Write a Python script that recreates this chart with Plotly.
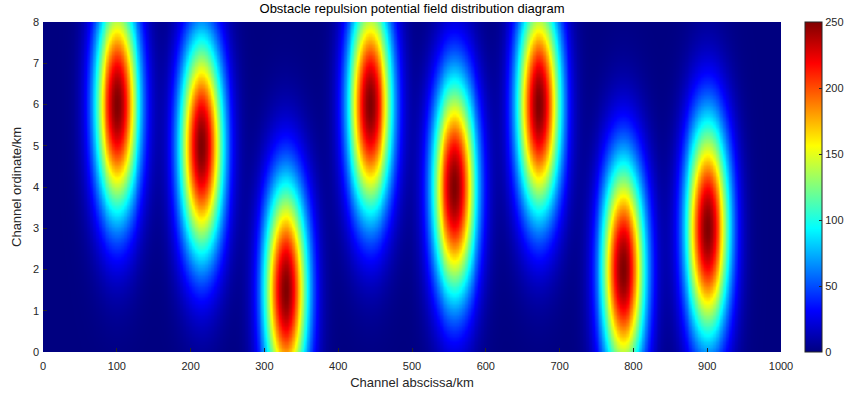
import numpy as np
import plotly.graph_objects as go

# Obstacle positions (km) and their repulsion strength / spread
obstacle_x = [100.0, 214.3, 328.6, 442.9, 557.1, 671.4, 785.7, 900.0]
obstacle_y = [6.0, 5.0, 1.5, 6.0, 4.0, 6.0, 2.0, 3.0]
obstacle_peak = [250, 250, 250, 250, 250, 250, 250, 250]
spread_x = 21.0   # km
spread_y = 1.85   # km

x_ticks = [0, 100, 200, 300, 400, 500, 600, 700, 800, 900, 1000]
y_ticks = [0, 1, 2, 3, 4, 5, 6, 7, 8]
cbar_ticks = [0, 50, 100, 150, 200, 250]

# Evaluation grid for the potential field
gx = np.linspace(0, 1000, 501)
gy = np.linspace(0, 8, 241)
X, Y = np.meshgrid(gx, gy)
Z = np.zeros_like(X)
for ox, oy, pk in zip(obstacle_x, obstacle_y, obstacle_peak):
    Z += pk * np.exp(-((X - ox) ** 2) / (2 * spread_x ** 2) - ((Y - oy) ** 2) / (2 * spread_y ** 2))

jet = [
    [0.0, "rgb(0,0,128)"],
    [0.125, "rgb(0,0,255)"],
    [0.375, "rgb(0,255,255)"],
    [0.625, "rgb(255,255,0)"],
    [0.875, "rgb(255,0,0)"],
    [1.0, "rgb(128,0,0)"],
]

txt = "#262626"
font_family = "Liberation Sans, Arial, sans-serif"

fig = go.Figure(
    go.Heatmap(
        x=gx, y=gy, z=Z,
        colorscale=jet, zmin=0, zmax=250,
        zsmooth="best",
        colorbar=dict(
            x=1.0325, xanchor="left", xref="paper",
            y=0, yanchor="bottom", len=1.0, lenmode="fraction",
            thickness=17, thicknessmode="pixels",
            outlinewidth=1, outlinecolor=txt,
            tickvals=cbar_ticks, ticks="inside", ticklen=3, tickcolor=txt,
            tickfont=dict(family=font_family, size=11, color=txt),
            ypad=0, xpad=0,
        ),
    )
)

fig.update_layout(
    width=850, height=396,
    margin=dict(l=43, r=69, t=22, b=44, autoexpand=False),
    paper_bgcolor="white", plot_bgcolor="white",
    title=dict(
        text="Obstacle repulsion potential field distribution diagram",
        x=0.5, xref="paper", xanchor="center",
        y=1, yref="container", yanchor="top", pad=dict(t=4),
        font=dict(family=font_family, size=13, color="#000000"),
    ),
    xaxis=dict(
        range=[0, 1000], tickvals=x_ticks, ticks="inside", ticklen=4,
        tickcolor=txt, showgrid=False, zeroline=False,
        ticklabelstandoff=6,
        tickfont=dict(family=font_family, size=11, color=txt),
        title=dict(text="Channel abscissa/km", standoff=6,
                   font=dict(family=font_family, size=13, color=txt)),
    ),
    yaxis=dict(
        range=[0, 8], tickvals=y_ticks, ticks="inside", ticklen=4,
        tickcolor=txt, showgrid=False, zeroline=False,
        ticklabelstandoff=3,
        tickfont=dict(family=font_family, size=11, color=txt),
        title=dict(text="Channel ordinate/km", standoff=8,
                   font=dict(family=font_family, size=13, color=txt)),
    ),
)

fig.write_html("out.html")
